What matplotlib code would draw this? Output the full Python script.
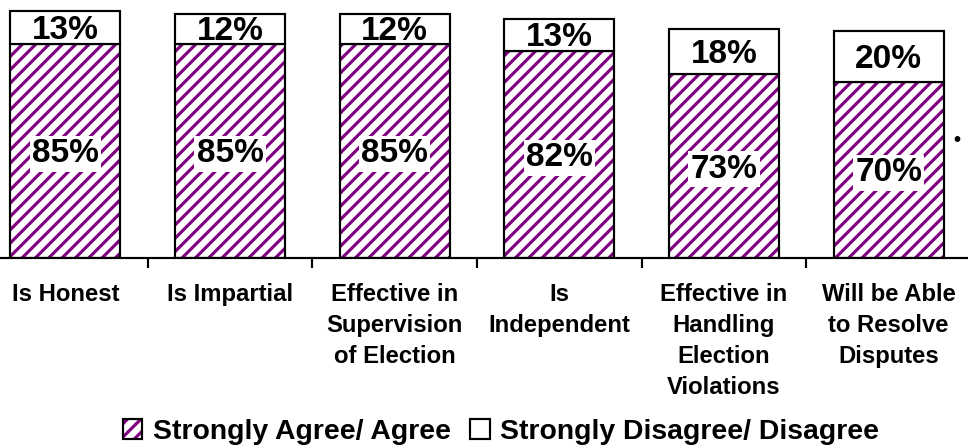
import matplotlib
matplotlib.use("Agg")
import matplotlib.pyplot as plt
from matplotlib.legend_handler import HandlerTuple
from matplotlib.patches import Patch
import numpy as np

categories = [
    "Is Honest",
    "Is Impartial",
    "Effective in\nSupervision\nof Election",
    "Is\nIndependent",
    "Effective in\nHandling\nElection\nViolations",
    "Will be Able\nto Resolve\nDisputes",
]
agree = [85, 85, 85, 82, 73, 70]
disagree = [13, 12, 12, 13, 18, 20]
series_names = ["Strongly Agree/ Agree", "Strongly Disagree/ Disagree"]

PURPLE = "#800080"
HATCH = "///"
DPI = 120
plt.rcParams["font.family"] = ["Liberation Sans", "DejaVu Sans"]
plt.rcParams["font.weight"] = "bold"
plt.rcParams["hatch.linewidth"] = 1.9

fig = plt.figure(figsize=(968 / DPI, 446 / DPI), dpi=DPI)
ax = fig.add_axes([-17 / 968, 1 - 258 / 446, 988 / 968, 252 / 446])

x = np.arange(len(categories))
width = 0.667

# hatched agree segment, then the black outline on top
ax.bar(x, agree, width, color="white", edgecolor=PURPLE, hatch=HATCH,
       linewidth=0)
ax.bar(x, agree, width, fill=False, edgecolor="black", linewidth=1.3)
ax.bar(x, disagree, width, bottom=agree, color="white", edgecolor="black",
       linewidth=1.3)

# value labels, nudged down slightly so the digits sit centred in each segment
for xi, a, d in zip(x, agree, disagree):
    ax.annotate(f"{a}%", xy=(xi, a / 2), xytext=(0, -1.8),
                textcoords="offset points", ha="center", va="center",
                fontsize=20, fontweight="bold",
                bbox=dict(facecolor="white", edgecolor="none", pad=1.5))
    ax.annotate(f"{d}%", xy=(xi, a + d / 2), xytext=(0, -1.8),
                textcoords="offset points", ha="center", va="center",
                fontsize=20, fontweight="bold")

ax.set_xlim(-0.5, len(categories) - 0.5)
ax.set_ylim(0, 100)
for s in ("left", "right", "top"):
    ax.spines[s].set_visible(False)
ax.spines["bottom"].set_linewidth(1.3)
ax.set_yticks([])

ax.set_xticks(x)
ax.set_xticklabels(categories, fontsize=14.3, fontweight="bold",
                   linespacing=1.45, va="top")
ax.tick_params(axis="x", which="major", length=0, pad=15)
ax.set_xticks(np.arange(-0.5, len(categories), 1.0), minor=True)
ax.tick_params(axis="x", which="minor", length=6, width=1.3, direction="out")

agree_handle = (
    Patch(facecolor="white", edgecolor=PURPLE, hatch=HATCH, linewidth=0),
    Patch(fill=False, edgecolor="black", linewidth=1.3),
)
disagree_handle = Patch(facecolor="white", edgecolor="black", linewidth=1.3)

leg = fig.legend(
    [agree_handle, disagree_handle], series_names,
    handler_map={tuple: HandlerTuple(ndivide=1, pad=0)},
    loc="center", bbox_to_anchor=(501 / 968, 1 - 432 / 446), ncol=2,
    frameon=False, fontsize=17, handlelength=0.68, handleheight=0.68,
    handletextpad=0.36, columnspacing=0.7, borderpad=0,
)
for t in leg.get_texts():
    t.set_fontweight("bold")

fig.text(957 / 968, 1 - 141 / 446, "•", ha="center", va="center",
         fontsize=12, color="black")

fig.savefig("out.png", dpi=DPI)
